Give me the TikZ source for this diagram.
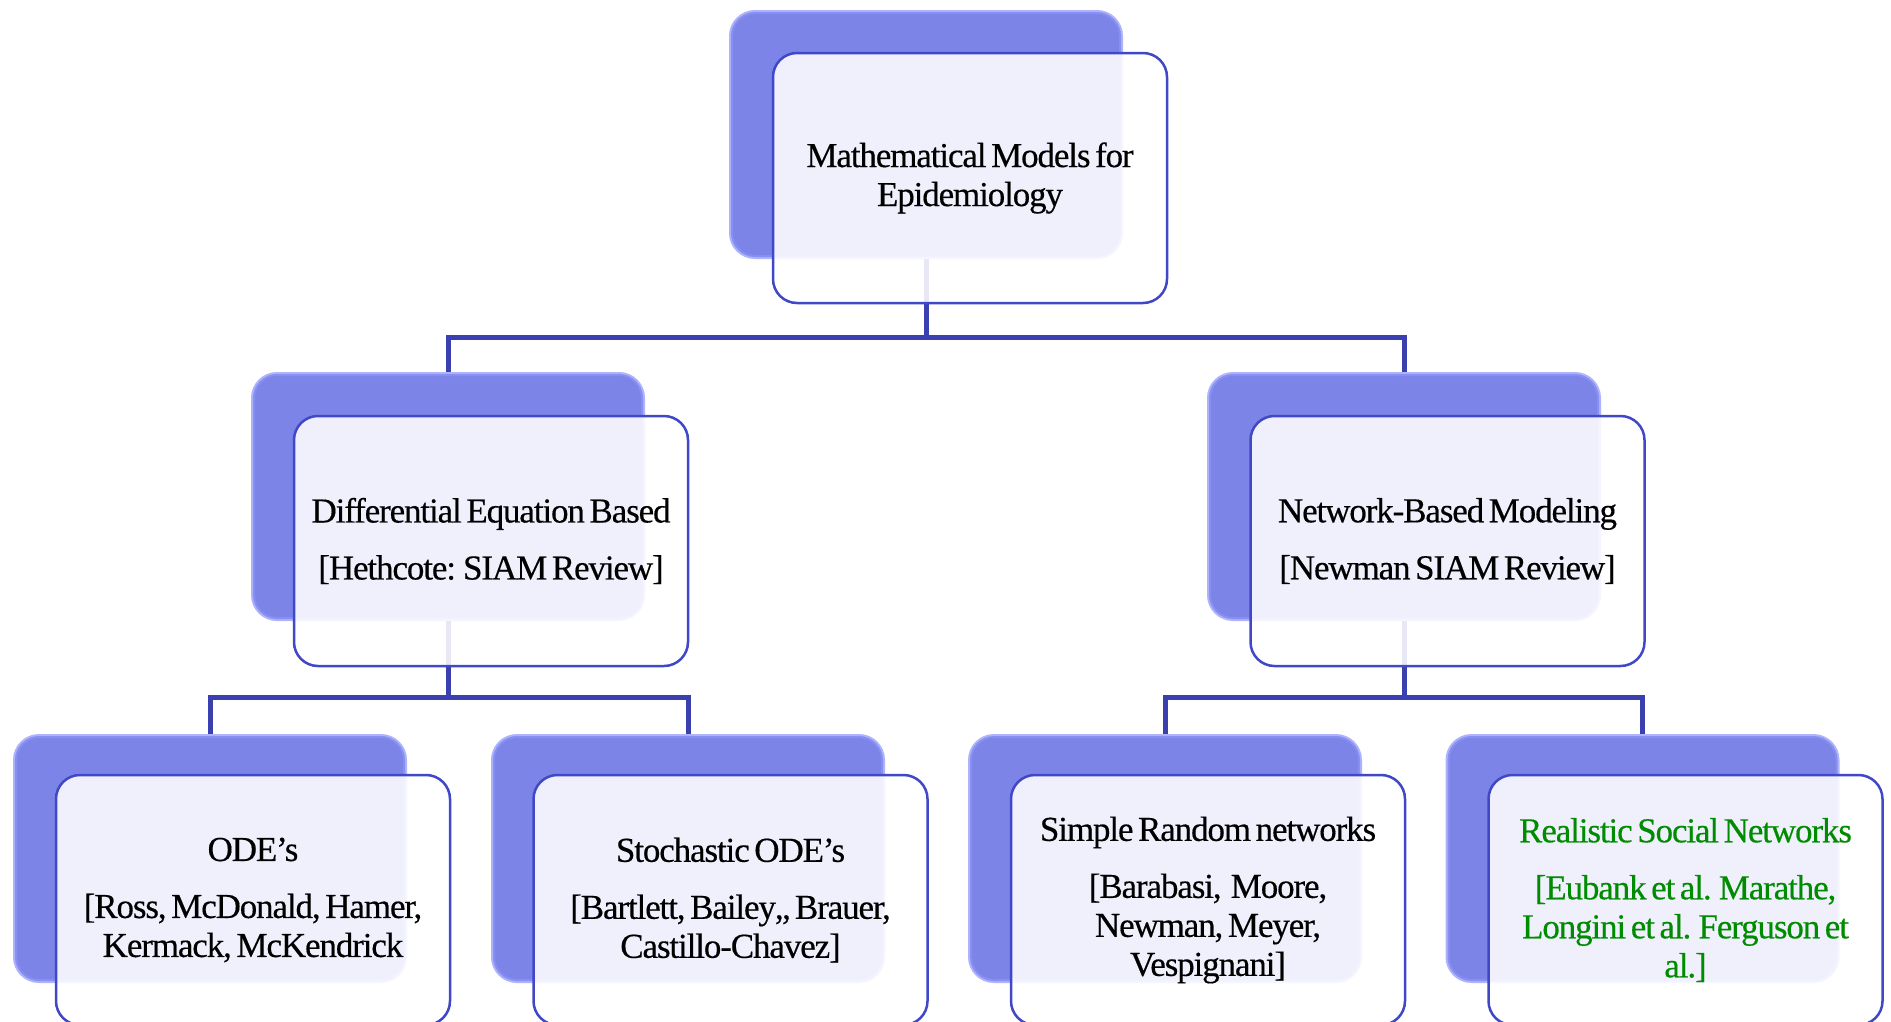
\documentclass[tikz,border=0pt]{standalone}
\usepackage{fontspec}
\setmainfont{Liberation Serif}[LetterSpace=-3.2,WordSpace=0.6,FakeBold=0.4]
\definecolor{bkfill}{RGB}{124,132,232}
\definecolor{bkedge}{RGB}{140,148,248}
\definecolor{frborder}{RGB}{64,72,200}
\definecolor{connc}{RGB}{58,64,176}
\definecolor{refgreen}{RGB}{0,140,0}
\pgfdeclarelayer{bg}
\pgfsetlayers{bg,main}
\begin{document}
\begin{tikzpicture}[x=1pt,y=-1pt,
  backbox/.style={rectangle, rounded corners=24pt, minimum width=390pt, minimum height=245pt,
    fill=bkfill, draw=bkedge, draw opacity=0.7, line width=4pt, inner sep=0pt},
  frontbox/.style={rectangle, rounded corners=24pt, minimum width=394pt, minimum height=250pt,
    fill=white, fill opacity=0.88, text opacity=1, draw=frborder, draw opacity=1, line width=2.5pt,
    align=center, inner sep=0pt, font=\fontsize{35}{39}\selectfont},
  conn/.style={draw=connc, line width=5pt}
]
\useasboundingbox (0,0) rectangle (1891,1021);
% back boxes
\node[backbox] (b0) at (926,134.5) {};
\node[backbox] (b1) at (448,496.5) {};
\node[backbox] (b2) at (1404,496.5) {};
\node[backbox] (b3) at (210,858.5) {};
\node[backbox] (b4) at (688,858.5) {};
\node[backbox] (b5) at (1165,858.5) {};
\node[backbox] (b6) at (1642.5,858.5) {};
% front boxes
\node[frontbox] (f0) at (970,178) {Mathematical Models for\\Epidemiology};
\node[frontbox] (f1) at (491,541) {Differential Equation Based\\[18pt]{[}Hethcote: SIAM Review]};
\node[frontbox] (f2) at (1447.5,541) {Network-Based Modeling\\[18pt]{[}Newman SIAM Review]};
\node[frontbox] (f3) at (253,900) {ODE’s\\[18pt]{[}Ross, McDonald, Hamer,\\Kermack, McKendrick};
\node[frontbox] (f4) at (730.5,900) {Stochastic ODE’s\\[18pt]{[}Bartlett, Bailey,, Brauer,\\Castillo-Chavez]};
\node[frontbox] (f5) at (1208,900) {Simple Random networks\\[18pt]{[}Barabasi,\ \ Moore,\\Newman, Meyer,\\Vespignani]};
\node[frontbox, text=refgreen] (f6) at (1685.5,900) {Realistic Social Networks\\[18pt]{[}Eubank et al. Marathe,\\Longini et al. Ferguson et\\al.]};
% connectors
\coordinate (bar0) at (926,337);
\coordinate (bar1) at (448,697);
\coordinate (bar2) at (1404,697);
\begin{pgfonlayer}{bg}
\fill[white] (0,0) rectangle (1891,1021);
\draw[conn] (b0.south) -- (bar0);
\draw[conn] (bar0) -| (b1.north);
\draw[conn] (bar0) -| (b2.north);
\draw[conn] (b1.south) -- (bar1);
\draw[conn] (bar1) -| (b3.north);
\draw[conn] (bar1) -| (b4.north);
\draw[conn] (b2.south) -- (bar2);
\draw[conn] (bar2) -| (b5.north);
\draw[conn] (bar2) -| (b6.north);
\end{pgfonlayer}
\end{tikzpicture}
\end{document}
